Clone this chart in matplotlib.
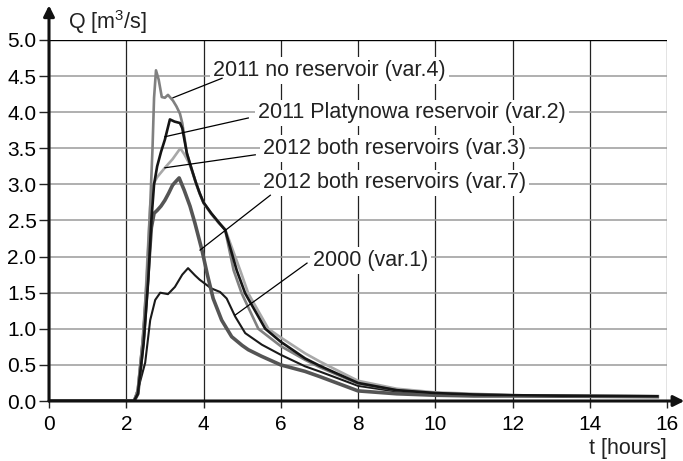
"""
Flood hydrographs Q(t) for reservoir variants.
"""
import matplotlib
matplotlib.use("Agg")
import matplotlib.pyplot as plt

plt.rcParams["font.family"] = "Liberation Sans"
plt.rcParams["mathtext.fontset"] = "custom"
plt.rcParams["mathtext.rm"] = "Liberation Sans"
plt.rcParams["mathtext.it"] = "Liberation Sans"

# ---- data ----
t_var4 = [0, 2.2, 2.3, 2.42, 2.53, 2.62, 2.68, 2.72, 2.77, 2.84, 2.92, 3.0, 3.08, 3.21, 3.3, 3.39,
          3.45, 3.57, 3.7, 3.8, 3.9, 4.0, 4.2, 4.4, 4.56, 4.78, 4.99, 5.42, 6.0, 6.63, 7.0, 8.0,
          9.0, 10, 11, 12, 14, 15.75]
q_var4 = [0, 0, 0.15, 0.8, 1.68, 2.7, 3.5, 4.2, 4.58, 4.45, 4.21, 4.2, 4.24, 4.16, 4.08, 3.98,
          3.85, 3.43, 3.2, 3.03, 2.88, 2.75, 2.6, 2.47, 2.37, 1.81, 1.49, 1.0, 0.76, 0.57, 0.47, 0.24,
          0.15, 0.11, 0.09, 0.08, 0.07, 0.065]

t_var2 = [0, 2.2, 2.3, 2.45, 2.57, 2.65, 2.72, 2.8, 2.9, 3.0, 3.13, 3.25, 3.39, 3.45, 3.57,
          3.7, 3.8, 3.9, 4.0, 4.2, 4.4, 4.56, 4.86, 5.08, 5.6, 6.0, 6.63, 7.0, 8.0, 9.0, 10, 11,
          12, 14, 15.75]
q_var2 = [0, 0, 0.1, 0.8, 1.68, 2.5, 3.0, 3.25, 3.45, 3.62, 3.9, 3.87, 3.85, 3.78, 3.43,
          3.2, 3.03, 2.88, 2.75, 2.6, 2.47, 2.37, 1.81, 1.49, 1.0, 0.82, 0.59, 0.49, 0.25, 0.15,
          0.11, 0.09, 0.08, 0.07, 0.065]

t_var3 = [0, 2.2, 2.3, 2.45, 2.55, 2.62, 2.7, 2.8, 3.0, 3.2, 3.4, 3.5, 3.62, 3.7, 3.8, 3.9,
          4.0, 4.2, 4.4, 4.56, 4.95, 5.16, 5.68, 6.0, 6.63, 7.0, 8.0, 9.0, 10, 11, 12, 14, 15.75]
q_var3 = [0, 0, 0.15, 0.9, 2.0, 2.7, 3.0, 3.1, 3.23, 3.35, 3.5, 3.42, 3.3, 3.19, 3.02, 2.87,
          2.74, 2.59, 2.46, 2.38, 1.81, 1.49, 1.0, 0.88, 0.66, 0.55, 0.28, 0.17, 0.12, 0.1, 0.08,
          0.07, 0.065]

t_var7 = [0, 2.2, 2.3, 2.45, 2.57, 2.65, 2.72, 2.8, 2.9, 3.0, 3.1, 3.2, 3.3, 3.37, 3.5, 3.65,
          3.78, 3.96, 4.1, 4.25, 4.47, 4.73, 5.0, 5.16, 5.5, 6.0, 6.63, 7.0, 8.0, 9.0, 10, 11,
          12, 14, 15.75]
q_var7 = [0, 0, 0.1, 0.9, 1.8, 2.4, 2.6, 2.64, 2.7, 2.78, 2.88, 2.99, 3.05, 3.09, 2.92, 2.7,
          2.46, 2.09, 1.75, 1.42, 1.12, 0.89, 0.77, 0.71, 0.62, 0.5, 0.41, 0.34, 0.14, 0.1, 0.08,
          0.07, 0.07, 0.065, 0.06]

t_var1 = [0, 2.2, 2.23, 2.35, 2.49, 2.62, 2.75, 2.88, 3.08, 3.26, 3.45, 3.6, 3.78, 3.9, 4.2,
          4.43, 4.6, 4.82, 5.08, 5.51, 6.0, 6.63, 7.0, 8.0, 9.0, 10, 11, 12, 14, 15.75]
q_var1 = [0, 0, 0.04, 0.25, 0.53, 1.12, 1.4, 1.5, 1.48, 1.58, 1.75, 1.84, 1.74, 1.68, 1.56,
          1.51, 1.42, 1.17, 0.94, 0.78, 0.64, 0.48, 0.41, 0.21, 0.13, 0.1, 0.08, 0.075, 0.07, 0.065]

labels = ["2011 no reservoir (var.4)", "2011 Platynowa reservoir (var.2)",
          "2012 both reservoirs (var.3)", "2012 both reservoirs (var.7)", "2000 (var.1)"]
label_xy = [(4.25, 4.58), (5.41, 3.99), (5.54, 3.50), (5.54, 3.02), (6.84, 1.95)]
leader_from = [(4.48, 4.47), (5.16, 3.92), (5.34, 3.41), (5.73, 2.85), (6.68, 1.91)]
leader_to = [(3.21, 4.20), (3.00, 3.66), (3.00, 3.23), (3.91, 2.09), (4.82, 1.19)]

x_ticks = [0, 2, 4, 6, 8, 10, 12, 14, 16]
y_ticks = [0.0, 0.5, 1.0, 1.5, 2.0, 2.5, 3.0, 3.5, 4.0, 4.5, 5.0]

fig = plt.figure(figsize=(6.83, 4.61), dpi=100)
ax = fig.add_axes([49 / 683, 60 / 461, 618 / 683, 361 / 461])
ax.set_xlim(0, 16)
ax.set_ylim(0, 5)
for s in ax.spines.values():
    s.set_visible(False)

ax.set_xticks(x_ticks)
ax.set_xticklabels([str(v) for v in x_ticks])
ax.set_yticks(y_ticks)
ax.set_yticklabels([f"{v:.1f}" for v in y_ticks])
ax.tick_params(axis="x", length=5, width=1, pad=5, labelsize=15, color="#222222")
ax.tick_params(axis="y", length=7, width=1, pad=2, labelsize=15, color="#222222")
ax.xaxis.grid(True, color="#222222", lw=0.9)
ax.yaxis.grid(True, color="#9a9a9a", lw=1.1)
ax.set_axisbelow(True)
ax.axhline(5, color="black", lw=1, zorder=1)

# curves
ax.plot(t_var1, q_var1, color="#1a1a1a", lw=1.5, zorder=5)
ax.plot(t_var7, q_var7, color="#555555", lw=2.6, zorder=5)
ax.plot(t_var3, q_var3, color="#a8a8a8", lw=1.9, zorder=5)
ax.plot(t_var4, q_var4, color="#808080", lw=1.9, zorder=5)
ax.plot(t_var2, q_var2, color="#151515", lw=1.9, zorder=6)

# labels with leaders
for lab, (tx, ty), (x0, y0), (x1, y1) in zip(labels, label_xy, leader_from, leader_to):
    ax.text(tx, ty, lab, fontsize=15.5, ha="left", va="center", color="#222222", zorder=3,
            bbox=dict(facecolor="white", edgecolor="none", pad=2))
    ax.plot([x0, x1], [y0, y1], color="black", lw=0.9, zorder=7)

# arrowed axes
ax.annotate("", xy=(16.45, 0), xytext=(0, 0), annotation_clip=False,
            arrowprops=dict(arrowstyle="-|>", lw=2.2, color="#111111", mutation_scale=16,
                            shrinkA=0, shrinkB=0), zorder=8)
ax.annotate("", xy=(0, 5.48), xytext=(0, 0), annotation_clip=False,
            arrowprops=dict(arrowstyle="-|>", lw=2.2, color="#111111", mutation_scale=16,
                            shrinkA=0, shrinkB=0), zorder=8)

ax.text(0.49, 5.25, "Q [m$^3$/s]", fontsize=15.5, ha="left", va="center", color="#222222",
        clip_on=False)
ax.text(16, -0.66, "t [hours]", fontsize=15.5, ha="right", va="center", color="#222222",
        clip_on=False)

fig.savefig("out.png", dpi=100)
